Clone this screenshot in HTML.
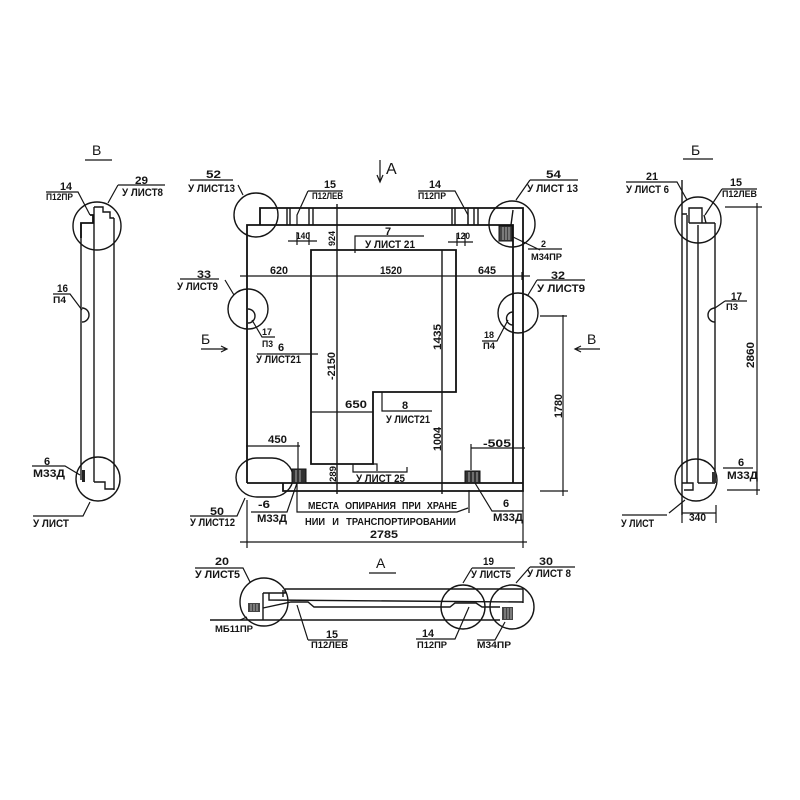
<!DOCTYPE html>
<html><head><meta charset="utf-8"><style>
html,body{margin:0;padding:0;background:#fff}
svg{display:block;filter:blur(.35px)}
.l{fill:none;stroke:#151515;stroke-width:1.4}
.t{stroke-width:1.2}
.b{fill:none;stroke:#111;stroke-width:1.8}
text{font-family:"Liberation Sans",sans-serif;font-weight:700;fill:#151515;font-size:11px}
.s{font-size:9px}
.m{font-size:14px;font-weight:400}
.h{stroke:#ddd;stroke-width:.7;fill:none}
</style></head><body>
<svg width="800" height="800" viewBox="0 0 800 800" xmlns="http://www.w3.org/2000/svg">
<rect width="800" height="800" fill="#fff"/>
<g class="l">
<!-- main panel -->
<path class="b" d="M260 225V208H523V491H283V483M247 483V225H513V483M247 483H523"/>
<path d="M287 208V225M290 208V225M309 208V225M313 208V225M452 208V225M455 208V225M468 208V225M474 208V225M478 208V225"/>
<path class="b" d="M311 250H456V392H373V464H311Z"/>
<path d="M337 204V494M442 250V494M513 210L511 225"/>
<!-- dimensions -->
<path class="t" d="M240 276H530M247 272V280M311 272V280M456 272V280M522 272V280"/>
<path class="t" d="M288 241H317M297 232V245M309 232V245M448 242H473M457 233V246M465 233V246"/>
<path class="t" d="M334 250H340M334 208H340"/>
<path class="t" d="M355 253V236H424"/>
<path class="t" d="M311 412H373M382 392V411H432"/>
<path class="t" d="M246 446H300M298 442V470M247 442V458"/>
<path class="t" d="M471 448H525M471 444V470"/>
<path class="t" d="M353 464V472H407V467M373 464H377V471"/>
<path class="t" d="M297 483V512H308L310 512H457L468 508M469 490V513"/>
<path class="t" d="M240 542H527M247 500V548M523 491V548"/>
<path class="t" d="M540 316H567M540 491H568M563 315V496"/>
<path class="t" d="M190 516H237L245 498M251 512H287L297 483M475 483L492 511H523"/>
<path class="t" d="M257 354H318"/>
<!-- circles -->
<circle cx="256" cy="215" r="22"/><circle cx="512" cy="224" r="23"/>
<circle cx="248" cy="309" r="20"/><circle cx="518" cy="313" r="20"/>
<rect x="236" y="458" width="57" height="39" rx="21"/>
<path d="M248 309a7 7 0 0 1 0 14M513 312a6 6 0 0 0 0 13"/>
<!-- leaders -->
<path class="t" d="M190 180H233M238 185L243 195M308 191H343M308 191L297 215V225M418 191H455L468 215V225"/>
<path class="t" d="M530 180H578M530 180L516 200M180 279H219M225 280L234 295M537 280H585M537 280L528 295"/>
<path class="t" d="M252 320L262 337H275M508 320L497 341H482M513 237L540 250M528 249H562"/>
<path class="t" d="M380 160V182M377 175L380 182L383 175"/>
<path class="t" d="M201 349H227M221 346L227 349L221 352M600 349H575M581 346L575 349L581 352"/>
</g>
<rect x="292" y="469" width="14" height="14" fill="#333" stroke="#111"/>
<rect x="465" y="471" width="15" height="12" fill="#333" stroke="#111"/>
<rect x="499" y="226" width="13" height="15" fill="#444" stroke="#111"/>
<path class="h" d="M296 470V482M300 470V482M469 472V482M473 472V482M477 472V482M503 227V240M506 227V240M509 227V240"/>
<g class="l">
<!-- bottom view -->
<circle cx="264" cy="602" r="24"/><circle cx="463" cy="607" r="22"/><circle cx="512" cy="607" r="22"/>
<path d="M285 589H523V603M269 593V600L523 602M263 593H285V589M283 590V597M210 620H500M263 593V620"/>
<path d="M263 608L291 602H308L314 607H450L455 603H476L482 607H500"/>
<path class="t" d="M369 573H396M195 568H243L250 582M472 568H515M472 568L463 583M530 567H575M530 567L516 583"/>
<path class="t" d="M308 640H348M308 640L297 605M416 639H455L469 607M477 640H495L505 622M247 617L240 620"/>
<!-- left view -->
<circle cx="97" cy="226" r="24"/><circle cx="98" cy="479" r="22"/>
<path d="M81 223V480M94 207V482M114 218V490"/>
<path d="M94 207H103V212H110V218H114M94 482H105V489H114"/>
<path class="b" d="M81 238V223H94M90 215H93V223"/>
<path d="M82 308a7 7 0 0 1 0 14"/>
<path class="t" d="M85 160H112M46 192H78L90 215M118 185H165M118 185L108 203M53 294H70L82 310M32 466H65L80 475M33 516H83L90 502"/>
<!-- right view -->
<circle cx="698" cy="220" r="23"/><circle cx="696" cy="480" r="21"/>
<path d="M682 180V515M687 215V483M698 225V483M715 223V483"/>
<path d="M689 223V208H702V223M689 223H715M704 215L706 223M682 214H687M682 483H693V490H684M698 483H715"/>
<path d="M715 308a7 7 0 0 0 0 14"/>
<path class="t" d="M683 159H713M626 182H677L687 200M722 189H757M722 189L705 215M725 301H747M725 301L715 308M725 207H762M727 490H760M757 203V495M723 468H753M682 505V523M716 505V523M682 513H716M622 515H667M669 513L685 500"/>
</g>
<rect x="248" y="603" width="12" height="9" fill="#444"/>
<rect x="502" y="607" width="11" height="13" fill="#444"/>
<path class="h" d="M251 604V611M254 604V611M257 604V611M505 608V619M508 608V619M511 608V619"/>
<rect x="82" y="470" width="3" height="12" fill="#222"/>
<rect x="712" y="472" width="4" height="11" fill="#333"/>
<!-- main labels -->
<text x="386" y="174" class="m" style="font-size:16px">А</text>
<text x="206" y="178" textLength="15" lengthAdjust="spacingAndGlyphs">52</text>
<text x="188" y="192" textLength="47" lengthAdjust="spacingAndGlyphs">У ЛИСТ13</text>
<text x="324" y="188" textLength="12" lengthAdjust="spacingAndGlyphs">15</text>
<text x="312" y="199" class="s" textLength="31" lengthAdjust="spacingAndGlyphs">П12ЛЕВ</text>
<text x="429" y="188" textLength="12" lengthAdjust="spacingAndGlyphs">14</text>
<text x="418" y="199" class="s" textLength="28" lengthAdjust="spacingAndGlyphs">П12ПР</text>
<text x="546" y="178" textLength="15" lengthAdjust="spacingAndGlyphs">54</text>
<text x="527" y="192" textLength="51" lengthAdjust="spacingAndGlyphs">У ЛИСТ 13</text>
<text x="541" y="247" class="s">2</text>
<text x="531" y="260" class="s" textLength="31" lengthAdjust="spacingAndGlyphs">М34ПР</text>
<text x="296" y="239" class="s" textLength="14" lengthAdjust="spacingAndGlyphs">140</text>
<text x="456" y="239" class="s" textLength="14" lengthAdjust="spacingAndGlyphs">120</text>
<text transform="translate(335,246) rotate(-90)" class="s" textLength="15" lengthAdjust="spacingAndGlyphs">924</text>
<text x="385" y="235">7</text>
<text x="365" y="248" textLength="50" lengthAdjust="spacingAndGlyphs">У ЛИСТ 21</text>
<text x="270" y="274" textLength="18" lengthAdjust="spacingAndGlyphs">620</text>
<text x="380" y="274" textLength="22" lengthAdjust="spacingAndGlyphs">1520</text>
<text x="478" y="274" textLength="18" lengthAdjust="spacingAndGlyphs">645</text>
<text x="197" y="278" textLength="14" lengthAdjust="spacingAndGlyphs">33</text>
<text x="177" y="290" textLength="41" lengthAdjust="spacingAndGlyphs">У ЛИСТ9</text>
<text x="551" y="279" textLength="14" lengthAdjust="spacingAndGlyphs">32</text>
<text x="537" y="292" textLength="48" lengthAdjust="spacingAndGlyphs">У ЛИСТ9</text>
<text x="262" y="335" class="s" textLength="10" lengthAdjust="spacingAndGlyphs">17</text>
<text x="262" y="347" class="s" textLength="11" lengthAdjust="spacingAndGlyphs">П3</text>
<text x="278" y="351">6</text>
<text x="256" y="363" textLength="45" lengthAdjust="spacingAndGlyphs">У ЛИСТ21</text>
<text x="484" y="338" class="s" textLength="10" lengthAdjust="spacingAndGlyphs">18</text>
<text x="483" y="349" class="s" textLength="12" lengthAdjust="spacingAndGlyphs">П4</text>
<text x="201" y="344" class="m">Б</text>
<text x="587" y="344" class="m">В</text>
<text transform="translate(335,380) rotate(-90)" textLength="28" lengthAdjust="spacingAndGlyphs">-2150</text>
<text transform="translate(441,350) rotate(-90)" textLength="26" lengthAdjust="spacingAndGlyphs">1435</text>
<text transform="translate(441,451) rotate(-90)" textLength="24" lengthAdjust="spacingAndGlyphs">1004</text>
<text transform="translate(336,482) rotate(-90)" class="s" textLength="16" lengthAdjust="spacingAndGlyphs">289</text>
<text transform="translate(562,418) rotate(-90)" textLength="24" lengthAdjust="spacingAndGlyphs">1780</text>
<text x="345" y="408" textLength="22" lengthAdjust="spacingAndGlyphs">650</text>
<text x="402" y="409">8</text>
<text x="386" y="423" textLength="44" lengthAdjust="spacingAndGlyphs">У ЛИСТ21</text>
<text x="268" y="443" textLength="19" lengthAdjust="spacingAndGlyphs">450</text>
<text x="483" y="447" textLength="28" lengthAdjust="spacingAndGlyphs">-505</text>
<text x="356" y="482" textLength="49" lengthAdjust="spacingAndGlyphs">У ЛИСТ 25</text>
<text x="308" y="509" textLength="149" lengthAdjust="spacingAndGlyphs" style="font-size:10px;word-spacing:4px">МЕСТА ОПИРАНИЯ ПРИ ХРАНЕ</text>
<text x="305" y="525" textLength="151" lengthAdjust="spacingAndGlyphs" style="font-size:10px;word-spacing:5px">НИИ И ТРАНСПОРТИРОВАНИИ</text>
<text x="210" y="515" textLength="14" lengthAdjust="spacingAndGlyphs">50</text>
<text x="190" y="526" textLength="45" lengthAdjust="spacingAndGlyphs">У ЛИСТ12</text>
<text x="258" y="508" textLength="12" lengthAdjust="spacingAndGlyphs">-6</text>
<text x="257" y="522" textLength="30" lengthAdjust="spacingAndGlyphs">М33Д</text>
<text x="503" y="507">6</text>
<text x="493" y="521" textLength="30" lengthAdjust="spacingAndGlyphs">М33Д</text>
<text x="370" y="538" textLength="28" lengthAdjust="spacingAndGlyphs">2785</text>
<!-- bottom labels -->
<text x="376" y="568" class="m">А</text>
<text x="215" y="565" textLength="14" lengthAdjust="spacingAndGlyphs">20</text>
<text x="195" y="578" textLength="45" lengthAdjust="spacingAndGlyphs">У ЛИСТ5</text>
<text x="483" y="565" textLength="11" lengthAdjust="spacingAndGlyphs">19</text>
<text x="471" y="578" textLength="40" lengthAdjust="spacingAndGlyphs">У ЛИСТ5</text>
<text x="539" y="565" textLength="14" lengthAdjust="spacingAndGlyphs">30</text>
<text x="527" y="577" textLength="44" lengthAdjust="spacingAndGlyphs">У ЛИСТ 8</text>
<text x="215" y="632" class="s" textLength="38" lengthAdjust="spacingAndGlyphs">МБ11ПР</text>
<text x="326" y="638" textLength="12" lengthAdjust="spacingAndGlyphs">15</text>
<text x="311" y="648" class="s" textLength="37" lengthAdjust="spacingAndGlyphs">П12ЛЕВ</text>
<text x="422" y="637" textLength="12" lengthAdjust="spacingAndGlyphs">14</text>
<text x="417" y="648" class="s" textLength="30" lengthAdjust="spacingAndGlyphs">П12ПР</text>
<text x="477" y="648" class="s" textLength="34" lengthAdjust="spacingAndGlyphs">М34ПР</text>
<!-- left labels -->
<text x="92" y="155" class="m">В</text>
<text x="60" y="190" textLength="12" lengthAdjust="spacingAndGlyphs">14</text>
<text x="46" y="200" class="s" textLength="27" lengthAdjust="spacingAndGlyphs">П12ПР</text>
<text x="135" y="184" textLength="13" lengthAdjust="spacingAndGlyphs">29</text>
<text x="122" y="196" textLength="41" lengthAdjust="spacingAndGlyphs">У ЛИСТ8</text>
<text x="57" y="292" textLength="11" lengthAdjust="spacingAndGlyphs">16</text>
<text x="53" y="303" class="s" textLength="13" lengthAdjust="spacingAndGlyphs">П4</text>
<text x="44" y="465">6</text>
<text x="33" y="477" textLength="32" lengthAdjust="spacingAndGlyphs">М33Д</text>
<text x="33" y="527" textLength="36" lengthAdjust="spacingAndGlyphs">У ЛИСТ</text>
<!-- right labels -->
<text x="691" y="155" class="m">Б</text>
<text x="646" y="180" textLength="12" lengthAdjust="spacingAndGlyphs">21</text>
<text x="626" y="193" textLength="43" lengthAdjust="spacingAndGlyphs">У ЛИСТ 6</text>
<text x="730" y="186" textLength="12" lengthAdjust="spacingAndGlyphs">15</text>
<text x="722" y="197" class="s" textLength="35" lengthAdjust="spacingAndGlyphs">П12ЛЕВ</text>
<text x="731" y="300" textLength="11" lengthAdjust="spacingAndGlyphs">17</text>
<text x="726" y="310" class="s" textLength="12" lengthAdjust="spacingAndGlyphs">П3</text>
<text transform="translate(754,368) rotate(-90)" textLength="26" lengthAdjust="spacingAndGlyphs">2860</text>
<text x="738" y="466">6</text>
<text x="727" y="479" textLength="31" lengthAdjust="spacingAndGlyphs">М33Д</text>
<text x="689" y="521" textLength="17" lengthAdjust="spacingAndGlyphs">340</text>
<text x="621" y="527" textLength="33" lengthAdjust="spacingAndGlyphs">У ЛИСТ</text>
</svg>
</body></html>
